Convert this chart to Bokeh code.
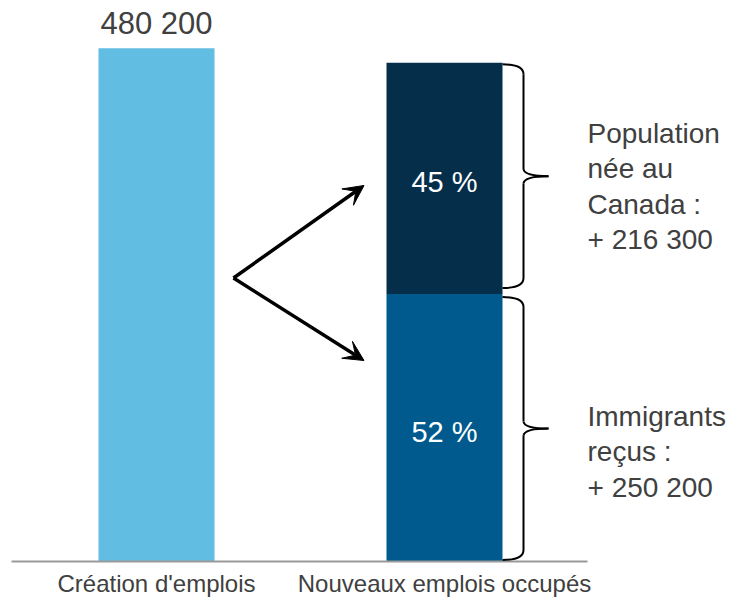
from bokeh.plotting import figure
from bokeh.models import Range1d, Arrow, VeeHead
from bokeh.core.properties import value
from bokeh.embed import file_html
from bokeh.resources import INLINE

# ---- data ----
categories = ["Création d'emplois", "Nouveaux emplois occupés"]
creation_total = [480200]
creation_label = ["480 200"]
group_names = ["Immigrants reçus", "Population née au Canada"]
group_values = [250200, 216300]
group_share_labels = ["52 %", "45 %"]
group_side_labels = [
    ["Immigrants", "reçus :", "+ 250 200"],
    ["Population", "née au", "Canada :", "+ 216 300"],
]

# ---- colours / fonts ----
C_LIGHT = "#62bde2"
C_MID = "#005a8d"
C_DARK = "#042e4a"
TXT = "#404040"
FONT = value("Liberation Sans")

W, H = 730, 600
ORIGIN = 0.0                            # page offset of the canvas
K = creation_total[0] / 513.3          # data units per pixel (vertical)
PX_X = 288.0                            # pixels per category step
BASE_PY = 561.0                         # page y of baseline
BAR1_PX = 156.0                         # page x of first bar centre


def X(px):
    return (px - BAR1_PX) / PX_X


def Y(py):
    return (BASE_PY - py) * K


p = figure(width=W, height=H, output_backend="svg", toolbar_location=None,
           x_range=Range1d(X(ORIGIN), X(ORIGIN + W)),
           y_range=Range1d(Y(ORIGIN + H), Y(ORIGIN)),
           x_axis_location=None, y_axis_location=None, min_border=0)
p.grid.visible = False
p.outline_line_color = None
p.background_fill_color = "white"
p.border_fill_color = "white"

bw = 116 / PX_X
xs = [0, 1]

# bar 1
p.vbar(x=[xs[0]], top=creation_total, width=bw, fill_color=C_LIGHT, line_color=None)
# bar 2 stacked
bottoms = [0, group_values[0]]
tops = [group_values[0], group_values[0] + group_values[1]]
p.vbar(x=[xs[1]], bottom=[bottoms[0]], top=[tops[0]], width=bw, fill_color=C_MID, line_color=None)
p.vbar(x=[xs[1]], bottom=[bottoms[1]], top=[tops[1]], width=bw, fill_color=C_DARK, line_color=None)

# baseline
p.segment(x0=[X(11)], y0=[0], x1=[X(587)], y1=[0], line_color="#9a9a9a", line_width=2)

# total label
p.text(x=[xs[0]], y=[creation_total[0] + 25 * K], text=creation_label,
       text_align="center", text_baseline="middle", text_font=FONT,
       text_font_size="31px", text_color=TXT)

# share labels in stacked bar
for i in range(2):
    mid = (bottoms[i] + tops[i]) / 2 - 4 * K
    p.text(x=[xs[1]], y=[mid], text=[group_share_labels[i]], text_align="center",
           text_baseline="middle", text_font=FONT, text_font_size="29px",
           text_color="white")

# category labels
p.text(x=xs, y=[Y(583)] * 2, text=categories, text_align="center",
       text_baseline="middle", text_font=FONT, text_font_size="24px", text_color=TXT)

# braces
SPINE = 523.0
TIP = 548.0
R = 10.0
edge = X(502)
for i in range(2):
    y_top_px = BASE_PY - tops[i] / K + (1.5 if i == 1 else 3.0)
    y_bot_px = BASE_PY - bottoms[i] / K - (6.0 if i == 1 else 1.5)
    y_mid_px = (y_top_px + y_bot_px) / 2
    # end curls
    p.quadratic(x0=[edge], y0=[Y(y_top_px)], x1=[X(SPINE)], y1=[Y(y_top_px + R)],
                cx=[X(SPINE)], cy=[Y(y_top_px)], line_color="black", line_width=2)
    p.quadratic(x0=[edge], y0=[Y(y_bot_px)], x1=[X(SPINE)], y1=[Y(y_bot_px - R)],
                cx=[X(SPINE)], cy=[Y(y_bot_px)], line_color="black", line_width=2)
    # spines
    p.segment(x0=[X(SPINE)] * 2, y0=[Y(y_top_px + R), Y(y_mid_px + 7)],
              x1=[X(SPINE)] * 2, y1=[Y(y_mid_px - 7), Y(y_bot_px - R)],
              line_color="black", line_width=2)
    # tip
    p.quadratic(x0=[X(SPINE)] * 2, y0=[Y(y_mid_px - 7), Y(y_mid_px + 7)],
                x1=[X(TIP)] * 2, y1=[Y(y_mid_px)] * 2,
                cx=[X(SPINE + 1)] * 2, cy=[Y(y_mid_px)] * 2,
                line_color="black", line_width=2)

# side labels
side_first_py = [416, 133]
for i in range(2):
    lines = group_side_labels[i]
    ys = [Y(side_first_py[i] + 35.3 * j) for j in range(len(lines))]
    p.text(x=[X(587)] * len(lines), y=ys, text=lines, text_align="left",
           text_baseline="middle", text_font=FONT, text_font_size="28px",
           text_color=TXT)

# arrows
for end_py in (185, 360):
    p.add_layout(Arrow(end=VeeHead(size=20, fill_color="black", line_color="black"),
                       x_start=X(233), y_start=Y(277.5), x_end=X(363.5), y_end=Y(end_py),
                       line_color="black", line_width=3.5))

open("out.html", "w").write(file_html(p, INLINE))
